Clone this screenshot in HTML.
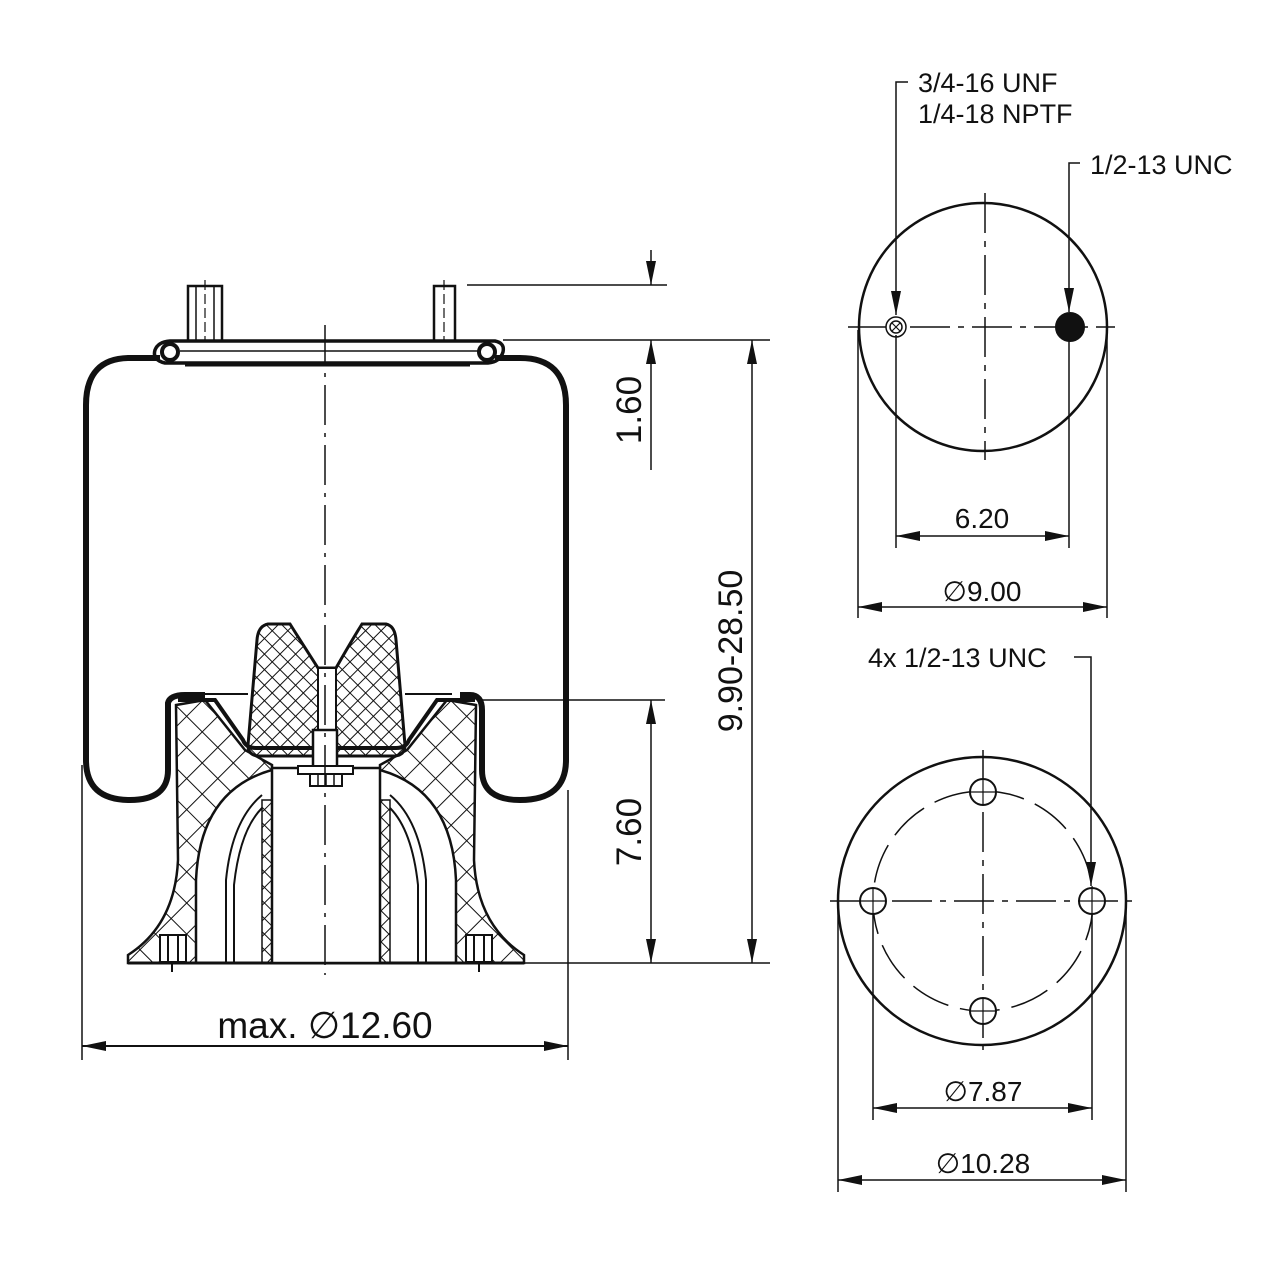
<!DOCTYPE html>
<html><head><meta charset="utf-8"><style>
html,body{margin:0;padding:0;background:#fff;}
svg{display:block;}
text{font-family:"Liberation Sans",Arial,sans-serif;fill:#111;}
.d{font-family:"DejaVu Sans",sans-serif;}
</style></head><body>
<svg width="1280" height="1280" viewBox="0 0 1280 1280" xmlns="http://www.w3.org/2000/svg">
<defs>
<pattern id="h1" width="22" height="22" patternUnits="userSpaceOnUse" patternTransform="rotate(45)">
<path d="M0 0H22M0 0V22" stroke="#111" stroke-width="2"/>
</pattern>
<pattern id="h2" width="11" height="11" patternUnits="userSpaceOnUse" patternTransform="rotate(45)">
<path d="M0 0H11M0 0V11" stroke="#111" stroke-width="2"/>
</pattern>
<marker id="a" viewBox="0 0 24 10" refX="24" refY="5" markerWidth="24" markerHeight="10" orient="auto-start-reverse" markerUnits="userSpaceOnUse">
<path d="M0 0 L24 5 L0 10 Z" fill="#111"/>
</marker>
</defs>
<g fill="none" stroke="#111" stroke-width="2">

<!-- studs -->
<rect x="188" y="286" width="34" height="64" fill="#fff" stroke-width="2.5"/>
<rect x="196" y="286" width="18" height="64" stroke-width="1.5"/>
<line x1="205" y1="280" x2="205" y2="360" stroke-width="1.2" stroke-dasharray="10 4"/>
<rect x="434" y="286" width="21" height="62" fill="#fff" stroke-width="2.5"/>
<line x1="444" y1="280" x2="444" y2="358" stroke-width="1.2" stroke-dasharray="10 4"/>
<!-- bead plate -->
<path d="M170 341 H495 Q505 343 503 352 Q500 362 488 363 H165 Q152 360 155 350 Q158 342 170 341 Z" fill="#fff" stroke-width="3.5"/>
<line x1="185" y1="365" x2="470" y2="365" stroke-width="3"/>
<circle cx="170" cy="352" r="8" stroke-width="4"/>
<circle cx="487" cy="352" r="8" stroke-width="4"/>
<line x1="180" y1="351" x2="480" y2="351" stroke-width="1.5"/>

<!-- bellows -->
<path d="M160 358 H130 Q86 358 86 405 V760 Q86 800 130 800 Q168 800 168 770 V703 Q170 695 185 695 H205 M460 695 H470 Q482 695 482 710 V770 Q482 800 520 800 Q566 800 566 760 V405 Q566 358 520 358 H495" stroke-width="6"/>

<!-- piston hatched body -->
<path d="M176 705 L205 700 L245 750 L272 765 L272 770 Q200 790 196 880 L196 963 L128 963 L128 955 Q175 925 178 860 Z" fill="url(#h1)" stroke-width="2.5"/>
<path d="M476 705 L447 700 L407 750 L380 765 L380 770 Q452 790 456 880 L456 963 L524 963 L524 955 Q477 925 474 860 Z" fill="url(#h1)" stroke-width="2.5"/>
<line x1="128" y1="963" x2="524" y2="963" stroke-width="3"/>
<path d="M178 700 H215 L243 740 Q246 748 256 748 H396 Q406 748 409 740 L437 700 H475" stroke-width="4"/>
<line x1="205" y1="694" x2="248" y2="694" stroke-width="2"/>
<line x1="405" y1="694" x2="452" y2="694" stroke-width="2"/>
<rect x="272" y="768" width="108" height="195" fill="#fff" stroke-width="2.5"/>
<rect x="262" y="800" width="10" height="163" fill="url(#h2)" stroke-width="1.5"/>
<rect x="380" y="800" width="10" height="163" fill="url(#h2)" stroke-width="1.5"/>
<path d="M226 963 V880 Q232 820 262 795 M234 963 V885 Q240 830 262 808" stroke-width="2"/>
<path d="M426 963 V880 Q420 820 390 795 M418 963 V885 Q412 830 390 808" stroke-width="2"/>
<rect x="160" y="935" width="26" height="27" fill="#fff"/>
<path d="M168 935 V962 M178 935 V962 M172 962 V972"/>
<rect x="466" y="935" width="26" height="27" fill="#fff"/>
<path d="M474 935 V962 M484 935 V962 M479 962 V972"/>

<!-- bumper -->
<path d="M268 624 H290 Q300 640 318 668 H336 Q352 640 362 624 H386 Q395 626 396 640 L405 745 Q405 755 395 756 H258 Q248 755 248 745 L257 640 Q258 626 268 624 Z" fill="url(#h2)" stroke-width="3"/>
<rect x="318" y="668" width="18" height="65" fill="#fff" stroke-width="2"/>
<rect x="313" y="730" width="24" height="38" fill="#fff" stroke-width="2.5"/>
<rect x="298" y="766" width="55" height="8" fill="#fff" stroke-width="2"/>
<rect x="310" y="774" width="32" height="12" fill="#fff" stroke-width="2"/>
<path d="M318 774 V786 M326 774 V786 M334 774 V786" stroke-width="1.5"/>

<line x1="325" y1="325" x2="325" y2="975" stroke-width="1.5" stroke-dasharray="40 8 4 8"/>

<!-- dimensions left -->
<line x1="467" y1="285" x2="667" y2="285" stroke-width="1.5"/>
<line x1="503" y1="340" x2="770" y2="340" stroke-width="1.5"/>
<line x1="480" y1="700" x2="665" y2="700" stroke-width="1.5"/>
<line x1="500" y1="963" x2="770" y2="963" stroke-width="1.5"/>
<line x1="651" y1="250" x2="651" y2="285" stroke-width="1.5" marker-end="url(#a)"/>
<line x1="651" y1="470" x2="651" y2="340" stroke-width="1.5" marker-end="url(#a)"/>
<line x1="651" y1="700" x2="651" y2="963" stroke-width="1.5" marker-start="url(#a)" marker-end="url(#a)"/>
<line x1="752" y1="340" x2="752" y2="963" stroke-width="1.5" marker-start="url(#a)" marker-end="url(#a)"/>
<line x1="82" y1="765" x2="82" y2="1060" stroke-width="1.5"/>
<line x1="568" y1="790" x2="568" y2="1060" stroke-width="1.5"/>
<line x1="82" y1="1046" x2="568" y2="1046" stroke-width="2" marker-start="url(#a)" marker-end="url(#a)"/>

<!-- top view -->
<circle cx="983" cy="327" r="124" stroke-width="2.5"/>
<line x1="848" y1="327" x2="1115" y2="327" stroke-width="1.5" stroke-dasharray="40 8 6 8"/>
<line x1="985" y1="193" x2="985" y2="460" stroke-width="1.5" stroke-dasharray="40 8 6 8"/>
<circle cx="896" cy="327" r="10" fill="#fff" stroke-width="1.5"/>
<circle cx="896" cy="327" r="6" stroke-width="1.5"/>
<path d="M892 323 L900 331 M900 323 L892 331" stroke-width="1.2"/>
<circle cx="1070" cy="327" r="14" fill="#111"/>
<path d="M908 82 H896 V315" stroke-width="1.5" marker-end="url(#a)"/>
<path d="M1080 163 H1069 V312" stroke-width="1.5" marker-end="url(#a)"/>
<line x1="896" y1="335" x2="896" y2="548" stroke-width="1.5"/>
<line x1="1069" y1="340" x2="1069" y2="548" stroke-width="1.5"/>
<line x1="896" y1="536" x2="1069" y2="536" stroke-width="1.5" marker-start="url(#a)" marker-end="url(#a)"/>
<line x1="858" y1="330" x2="858" y2="618" stroke-width="1.5"/>
<line x1="1107" y1="330" x2="1107" y2="618" stroke-width="1.5"/>
<line x1="858" y1="607" x2="1107" y2="607" stroke-width="1.5" marker-start="url(#a)" marker-end="url(#a)"/>

<!-- bottom view -->
<circle cx="982" cy="901" r="144" stroke-width="2.5"/>
<circle cx="983" cy="901" r="110" stroke-width="1.5" stroke-dasharray="40 12"/>
<line x1="830" y1="901" x2="1136" y2="901" stroke-width="1.5" stroke-dasharray="40 8 6 8"/>
<line x1="983" y1="750" x2="983" y2="1050" stroke-width="1.5" stroke-dasharray="40 8 6 8"/>
<circle cx="983" cy="792" r="13" fill="#fff" stroke-width="2"/>
<circle cx="873" cy="901" r="13" fill="#fff" stroke-width="2"/>
<circle cx="1092" cy="901" r="13" fill="#fff" stroke-width="2"/>
<circle cx="983" cy="1011" r="13" fill="#fff" stroke-width="2"/>
<path d="M983 779 V805 M970 792 H996 M873 888 V914 M860 901 H886 M1092 888 V914 M1079 901 H1105 M983 998 V1024 M970 1011 H996" stroke-width="1.2"/>
<path d="M1074 657 H1091 V886" stroke-width="1.5" marker-end="url(#a)"/>
<line x1="873" y1="914" x2="873" y2="1120" stroke-width="1.5"/>
<line x1="1092" y1="914" x2="1092" y2="1120" stroke-width="1.5"/>
<line x1="873" y1="1108" x2="1092" y2="1108" stroke-width="1.5" marker-start="url(#a)" marker-end="url(#a)"/>
<line x1="838" y1="905" x2="838" y2="1192" stroke-width="1.5"/>
<line x1="1126" y1="905" x2="1126" y2="1192" stroke-width="1.5"/>
<line x1="838" y1="1180" x2="1126" y2="1180" stroke-width="1.5" marker-start="url(#a)" marker-end="url(#a)"/>
</g>

<text x="325" y="1038" font-size="37" text-anchor="middle">max.  <tspan class="d">∅</tspan>12.60</text>
<text transform="translate(641,410) rotate(-90)" font-size="35" text-anchor="middle">1.60</text>
<text transform="translate(641,832) rotate(-90)" font-size="35" text-anchor="middle">7.60</text>
<text transform="translate(742,651) rotate(-90)" font-size="34" text-anchor="middle">9.90-28.50</text>

<text x="918" y="92" font-size="27">3/4-16 UNF</text>
<text x="918" y="123" font-size="27">1/4-18 NPTF</text>
<text x="1090" y="174" font-size="27">1/2-13 UNC</text>
<text x="982" y="528" font-size="28" text-anchor="middle">6.20</text>
<text x="982" y="601" font-size="28" text-anchor="middle"><tspan class="d">∅</tspan>9.00</text>
<text x="868" y="667" font-size="27">4x 1/2-13 UNC</text>
<text x="983" y="1101" font-size="28" text-anchor="middle"><tspan class="d">∅</tspan>7.87</text>
<text x="983" y="1173" font-size="28" text-anchor="middle"><tspan class="d">∅</tspan>10.28</text>
</svg>
</body></html>
